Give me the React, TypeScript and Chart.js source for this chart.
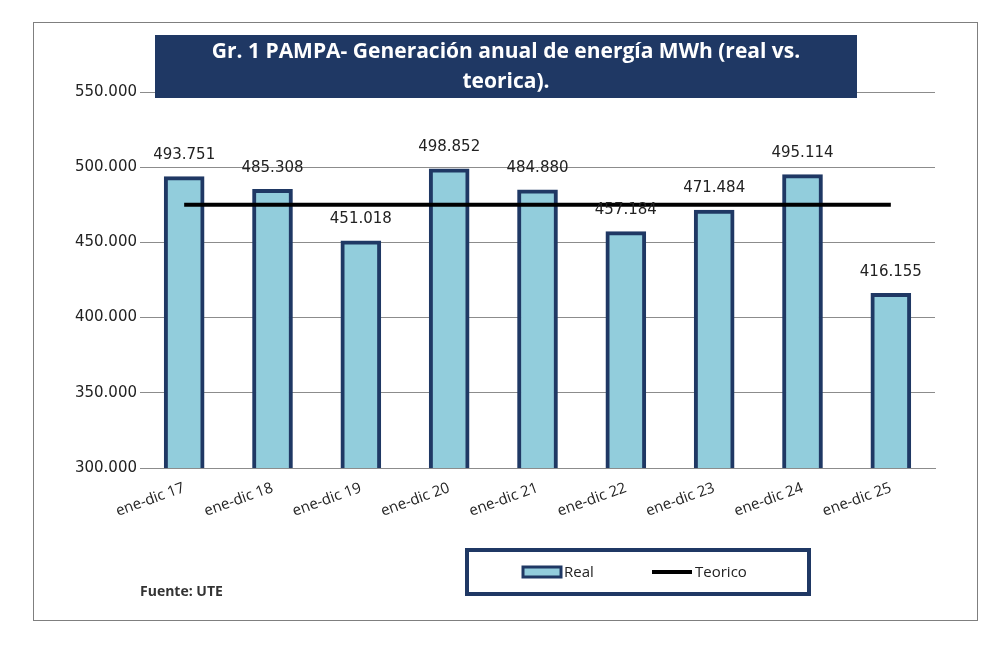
import React, { useEffect, useRef } from "react";
import { Chart, registerables } from "chart.js";
Chart.register(...registerables);

const categories = ["ene-dic 17","ene-dic 18","ene-dic 19","ene-dic 20","ene-dic 21","ene-dic 22","ene-dic 23","ene-dic 24","ene-dic 25"];
const realValues = [493751, 485308, 451018, 498852, 484880, 457184, 471484, 495114, 416155];
const teoricoValues = [475000, 475000, 475000, 475000, 475000, 475000, 475000, 475000, 475000];
const titleLines = ["Gr. 1 PAMPA- Generación anual de energía MWh (real vs.", "teorica)."];
const sourceText = "Fuente: UTE";

const fmt = (v: number) => Math.round(v).toLocaleString("de-DE");
const NAVY = "#1f3864";
const FILL = "#92cddc";

const deco = {
  id: "deco",
  beforeDraw(c: any) {
    const ctx = c.ctx;
    ctx.save();
    ctx.fillStyle = "#fff";
    ctx.fillRect(0, 0, c.width, c.height);
    ctx.strokeStyle = "#7f7f7f";
    ctx.lineWidth = 1;
    ctx.strokeRect(33.5, 22.5, 944, 598);
    ctx.restore();
  },
  afterDraw(c: any) {
    const ctx = c.ctx;
    ctx.save();
    // data labels
    const meta = c.getDatasetMeta(0);
    ctx.fillStyle = "#222";
    ctx.font = "15px 'DejaVu Sans'";
    ctx.textAlign = "center";
    ctx.textBaseline = "bottom";
    meta.data.forEach((b: any, i: number) => {
      ctx.fillText(fmt(realValues[i]), b.x, b.y - 14);
    });
    // title
    ctx.fillStyle = NAVY;
    ctx.fillRect(155, 35, 702, 63);
    ctx.fillStyle = "#fff";
    ctx.font = "bold 21px 'Open Sans'";
    ctx.textBaseline = "middle";
    ctx.fillText(titleLines[0], 506, 52);
    ctx.fillText(titleLines[1], 506, 82);
    // legend
    ctx.strokeStyle = NAVY;
    ctx.lineWidth = 4;
    ctx.strokeRect(467, 550, 342, 44);
    ctx.fillStyle = FILL;
    ctx.fillRect(523, 567, 38, 10);
    ctx.lineWidth = 3;
    ctx.strokeRect(523, 567, 38, 10);
    ctx.fillStyle = "#222";
    ctx.font = "15px 'Open Sans'";
    ctx.textAlign = "left";
    ctx.fillText("Real", 564, 573);
    ctx.strokeStyle = "#000";
    ctx.lineWidth = 4;
    ctx.beginPath(); ctx.moveTo(652, 572); ctx.lineTo(692, 572); ctx.stroke();
    ctx.fillText("Teorico", 695, 573);
    // source
    ctx.font = "bold 14px 'Open Sans'";
    ctx.fillStyle = "#333";
    ctx.fillText(sourceText, 140, 592);
    ctx.restore();
  },
};

export default function App() {
  const ref = useRef<HTMLCanvasElement>(null);
  useEffect(() => {
    const chart = new Chart(ref.current!, {
      type: "bar",
      data: {
        labels: categories,
        datasets: [
          { type: "bar", label: "Real", data: realValues, backgroundColor: FILL, borderColor: NAVY, borderWidth: 4, barThickness: 40, order: 2 },
          { type: "line", label: "Teorico", data: teoricoValues, borderColor: "#000", borderWidth: 4, pointRadius: 0, order: 1 },
        ] as any,
      },
      plugins: [deco],
      options: {
        animation: false,
        responsive: false,
        layout: { padding: { left: 33, top: 92, right: 65, bottom: 100 } },
        plugins: { legend: { display: false }, tooltip: { enabled: false } },
        scales: {
          y: {
            min: 300000, max: 550000,
            ticks: { stepSize: 50000, callback: (v: any) => fmt(v), color: "#222", font: { family: "DejaVu Sans", size: 15 } },
            grid: { color: "#8c8c8c", drawTicks: false },
            border: { display: false },
            afterFit: (s: any) => { s.width = 107; },
          },
          x: {
            ticks: { maxRotation: 20, minRotation: 20, color: "#222", font: { family: "Open Sans", size: 15 } },
            grid: { display: false },
            border: { color: "#8c8c8c" },
            afterFit: (s: any) => { s.height = 82; },
          },
        },
      },
    });
    return () => chart.destroy();
  }, []);
  return (
    <div style={{ position: "fixed", left: 0, top: 0 }}>
      <canvas ref={ref} width={1000} height={650} />
    </div>
  );
}
